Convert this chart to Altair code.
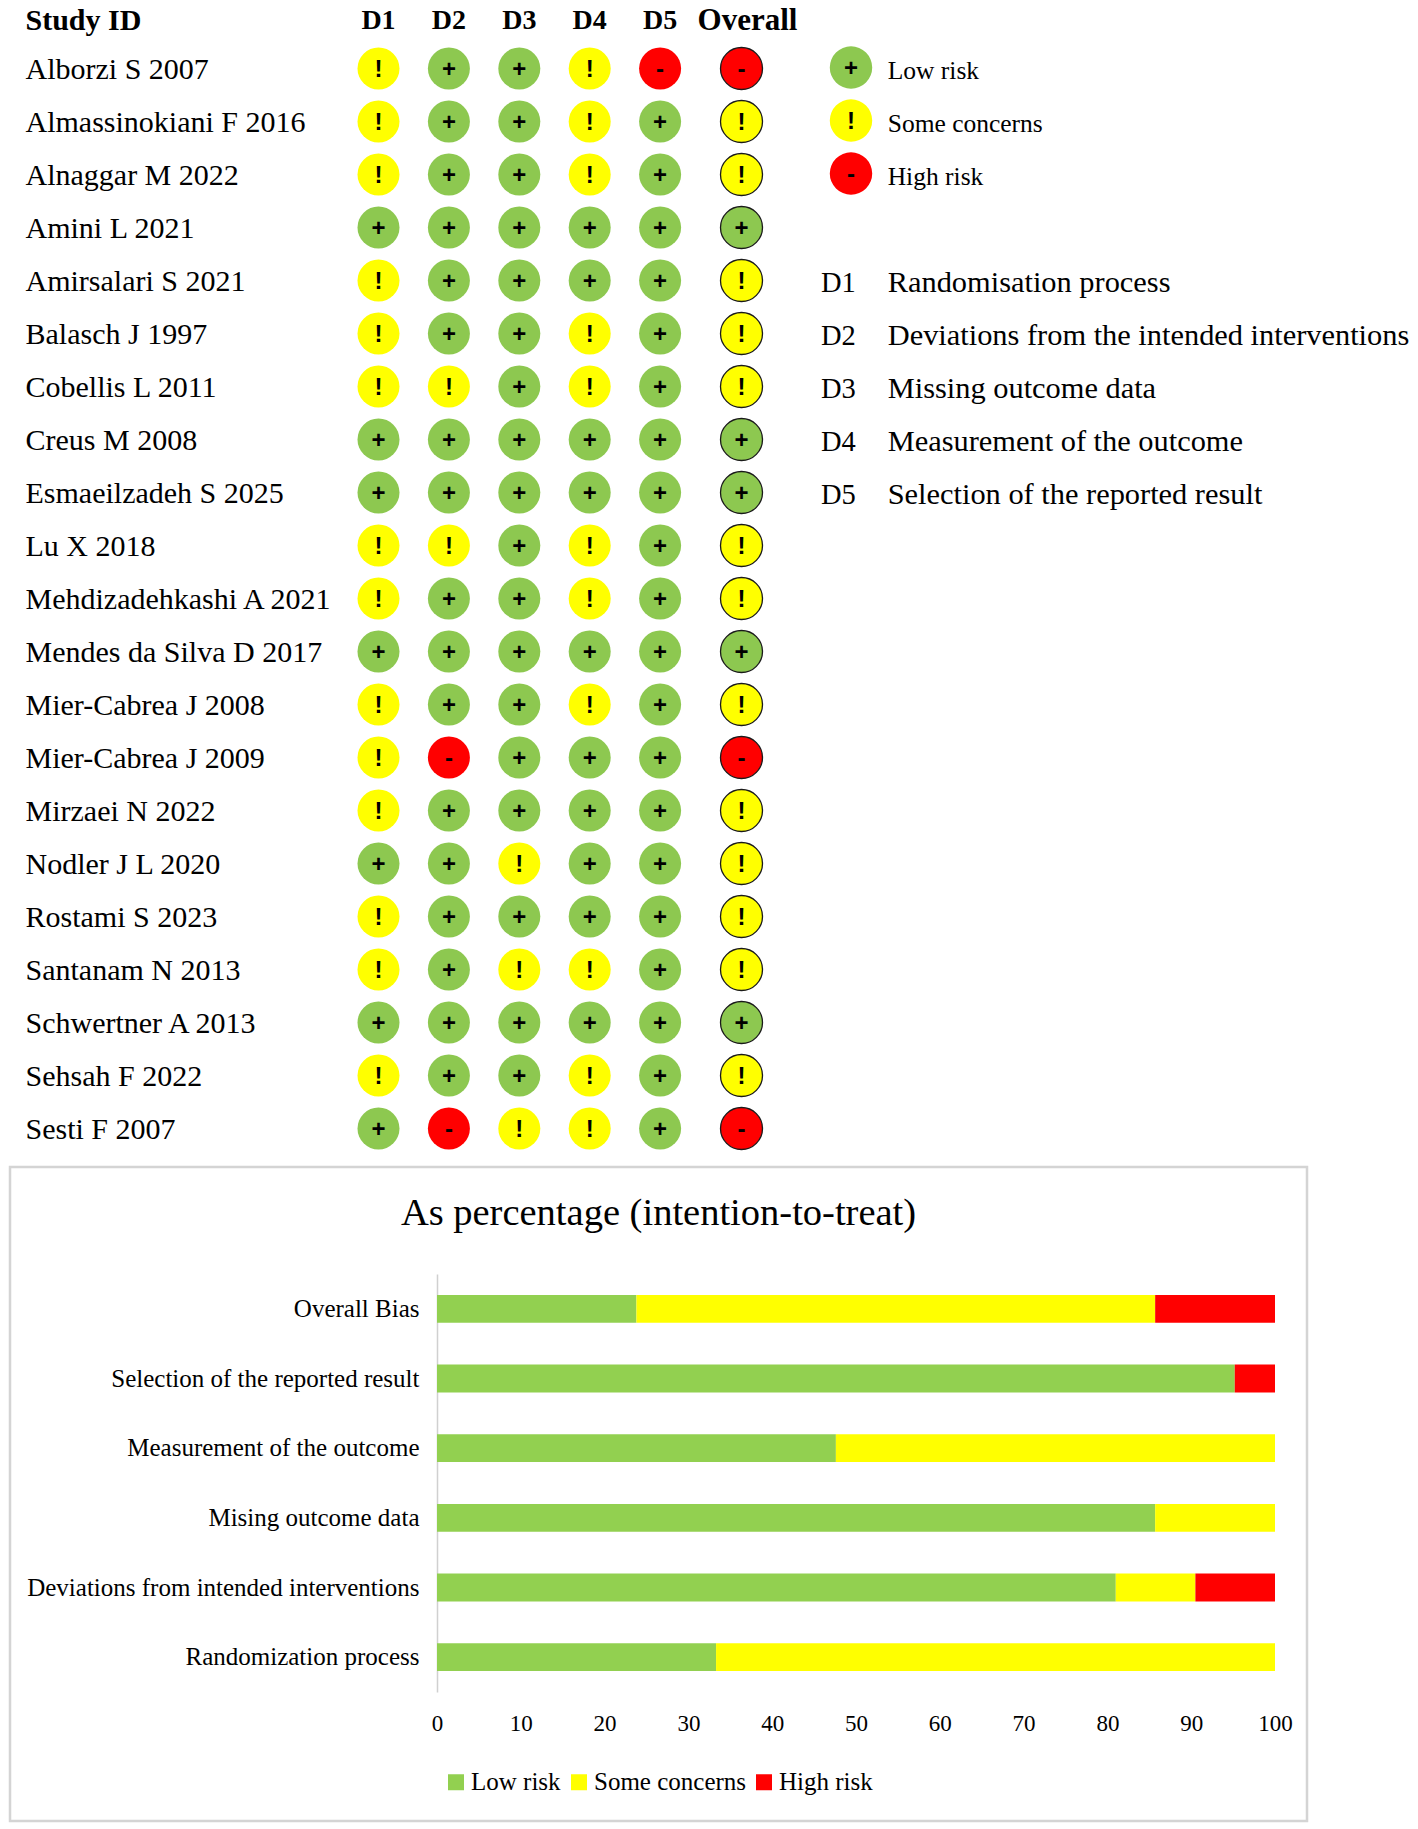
import altair as alt
import pandas as pd

studies = ["Alborzi S 2007","Almassinokiani F 2016","Alnaggar M 2022","Amini L 2021","Amirsalari S 2021",
           "Balasch J 1997","Cobellis L 2011","Creus M 2008","Esmaeilzadeh S 2025","Lu X 2018",
           "Mehdizadehkashi A 2021","Mendes da Silva D 2017","Mier-Cabrea J 2008","Mier-Cabrea J 2009",
           "Mirzaei N 2022","Nodler J L 2020","Rostami S 2023","Santanam N 2013","Schwertner A 2013",
           "Sehsah F 2022","Sesti F 2007"]
d1 = ["!","!","!","+","!","!","!","+","+","!","!","+","!","!","!","+","!","!","+","!","+"]
d2 = ["+","+","+","+","+","+","!","+","+","!","+","+","+","-","+","+","+","+","+","+","-"]
d3 = ["+","+","+","+","+","+","+","+","+","+","+","+","+","+","+","!","+","!","+","+","!"]
d4 = ["!","!","!","+","+","!","!","+","+","!","!","+","!","+","+","+","+","!","+","!","!"]
d5 = ["-","+","+","+","+","+","+","+","+","+","+","+","+","+","+","+","+","+","+","+","+"]
overall = ["-","!","!","+","!","!","!","+","+","!","!","+","!","-","!","!","!","!","+","!","-"]
columns = ["D1","D2","D3","D4","D5","Overall"]
risk_symbols = ["+","!","-"]
risk_names = ["Low risk","Some concerns","High risk"]
circle_colors = ["#8DC850","#FFFF00","#FF0000"]
bar_colors = ["#92D050","#FFFF00","#FF0000"]
domain_rows = ["Randomisation process","Deviations from the intended interventions","Missing outcome data",
               "Measurement of the outcome","Selection of the reported result"]
bar_categories = ["Overall Bias","Selection of the reported result","Measurement of the outcome",
                  "Mising outcome data","Deviations from intended interventions","Randomization process"]
low_pct = [23.8,95.2,47.6,85.7,81.0,33.3]
some_pct = [61.9,0,52.4,14.3,9.5,66.7]
high_pct = [14.3,4.8,0,0,9.5,0]
x_ticks = list(range(0,101,10))

SERIF = "Liberation Serif"
SANS = "Liberation Sans"

rows = ["Study ID"] + studies
yscale = alt.Scale(domain=rows, range=[5.5, 5.5 + 53*21], padding=0)
xscale = alt.Scale(domain=columns, range=[368.5, 720.5], padding=0)
y_enc = alt.Y("study:N", scale=yscale, axis=None)
x_enc = alt.X("col:N", scale=xscale, axis=None)

grid = pd.DataFrame([
    {"study": s, "col": c, "sym": v}
    for c, vals in zip(columns, [d1,d2,d3,d4,d5,overall])
    for s, v in zip(studies, vals)
])
main = grid[grid.col != "Overall"]
over = grid[grid.col == "Overall"]
color_enc = alt.Color("sym:N", scale=alt.Scale(domain=risk_symbols, range=circle_colors), legend=None)
CIRCLE = 1764
OVER_DX = 11

c_main = alt.Chart(main).mark_circle(size=CIRCLE, opacity=1).encode(x=x_enc, y=y_enc, color=color_enc)
c_over = alt.Chart(over).mark_point(size=CIRCLE, filled=True, opacity=1, stroke="#1a1a1a", strokeWidth=1.3, shape="circle", xOffset=OVER_DX).encode(x=x_enc, y=y_enc, fill=alt.Fill("sym:N", scale=alt.Scale(domain=risk_symbols, range=circle_colors), legend=None))
t_main = alt.Chart(main).mark_text(font=SANS, fontWeight="bold", fontSize=24, color="black", dy=1).encode(x=x_enc, y=y_enc, text="sym:N")
t_over = alt.Chart(over).mark_text(font=SANS, fontWeight="bold", fontSize=24, color="black", dy=1, xOffset=OVER_DX).encode(x=x_enc, y=y_enc, text="sym:N")

hdr = pd.DataFrame({"study": ["Study ID"]*len(columns), "col": columns})
h_main = alt.Chart(hdr[hdr.col != "Overall"]).mark_text(font=SERIF, fontWeight="bold", fontSize=28, color="black", dy=5).encode(x=x_enc, y=y_enc, text="col:N")
h_over = alt.Chart(hdr[hdr.col == "Overall"]).mark_text(font=SERIF, fontWeight="bold", fontSize=31, color="black", dy=5, xOffset=OVER_DX+6).encode(x=x_enc, y=y_enc, text="col:N")

# study names come from a y axis
names = alt.Chart(pd.DataFrame({"study": studies})).mark_point(opacity=0).encode(
    y=alt.Y("study:N", scale=yscale, axis=alt.Axis(
        title=None, domain=False, ticks=False, grid=False, labelAlign="left", labelPadding=-15,
        labelFont=SERIF, labelFontSize=30, labelColor="black", labelLimit=0, labelBound=False,
        labelFontWeight={"condition": {"test": "datum.value == 'Study ID'", "value": "bold"}, "value": "normal"},
        labelOffset={"condition": {"test": "datum.value == 'Study ID'", "value": 5}, "value": 1},
        values=rows)))

# key on the right: rows share the spacing of the study rows
key_rows = risk_names + [" "] + columns[:5]
key_y = alt.Y("row:N", scale=alt.Scale(domain=key_rows, range=[57.5, 57.5 + 53*8], padding=0), axis=None)
key_x = alt.X("kcol:N", scale=alt.Scale(domain=["code","key","label"], range=[811, 877.7], padding=0), axis=None)
key_sym = pd.DataFrame({"row": risk_names, "kcol": "key", "sym": risk_symbols})
key_lab = pd.DataFrame({"row": risk_names, "kcol": "label", "txt": risk_names})
dom_code = pd.DataFrame({"row": columns[:5], "kcol": "code", "txt": columns[:5]})
dom_lab = pd.DataFrame({"row": columns[:5], "kcol": "label", "txt": domain_rows})
KDX = -3.35
k1 = alt.Chart(key_sym).mark_circle(size=1800, opacity=1, xOffset=KDX).encode(x=key_x, y=key_y, color=color_enc)
k2 = alt.Chart(key_sym).mark_text(font=SANS, fontWeight="bold", fontSize=24, color="black", dy=1, xOffset=KDX).encode(x=key_x, y=key_y, text="sym:N")
k3 = alt.Chart(key_lab).mark_text(font=SERIF, fontSize=25.5, color="black", align="left", dy=3).encode(x=key_x, y=key_y, text="txt:N")
k4 = alt.Chart(dom_code).mark_text(font=SERIF, fontSize=28.5, color="black", align="left", dy=3).encode(x=key_x, y=key_y, text="txt:N")
k5 = alt.Chart(dom_lab).mark_text(font=SERIF, fontSize=30.4, color="black", align="left", dy=3).encode(x=key_x, y=key_y, text="txt:N")

top = alt.layer(names, c_main, c_over, t_main, t_over, h_main, h_over, k1, k2, k3, k4, k5).resolve_scale(
    x="independent", y="independent", color="independent", fill="independent"
).properties(width=1400, height=1155)

bars = pd.DataFrame([
    {"cat": c, "risk": n, "ord": i, "pct": v}
    for i, (n, vals) in enumerate(zip(risk_names, [low_pct, some_pct, high_pct]))
    for c, v in zip(bar_categories, vals)
])
bottom = alt.Chart(bars).mark_bar().encode(
    x=alt.X("pct:Q", stack="zero", scale=alt.Scale(domain=[0,100], range=[427, 1265], nice=False),
            axis=alt.Axis(title=None, domain=False, ticks=False, grid=False, values=x_ticks, offset=-129,
                          labelPadding=20, labelFont=SERIF, labelFontSize=23, labelColor="black", labelFlush=False)),
    y=alt.Y("cat:N", sort=bar_categories, scale=alt.Scale(domain=bar_categories, range=[107, 525], paddingInner=0.6, paddingOuter=0.3),
            axis=alt.Axis(title=None, ticks=False, grid=False, domain=True, domainColor="#d0d0d0", domainWidth=1.5, offset=-427,
                          labelPadding=18, labelFont=SERIF, labelFontSize=25, labelColor="black", labelLimit=0)),
    color=alt.Color("risk:N", scale=alt.Scale(domain=risk_names, range=bar_colors),
                    legend=alt.Legend(title=None, orient="none", legendX=433.5, legendY=602.5, direction="horizontal", columns=3,
                                      symbolType="square", symbolSize=256, symbolStrokeWidth=0, labelFont=SERIF, labelFontSize=25,
                                      labelColor="black", columnPadding=5, labelOffset=2.5, labelLimit=0)),
    order=alt.Order("ord:Q"),
).properties(
    width=1297, height=654,
    title=alt.TitleParams("As percentage (intention-to-treat)", font=SERIF, fontSize=38.5, fontWeight="normal", color="black",
                          orient="top", anchor="middle", offset=-66),
    view=alt.ViewConfig(stroke="#d4d4d4", strokeWidth=2.5),
)

chart = alt.vconcat(top, bottom, spacing=0).resolve_scale(color="independent", fill="independent").properties(
    padding={"left": 0, "top": -4, "right": 0, "bottom": 0}, background="white"
).configure_view(stroke=None)
chart.save("out.html", embed_options={"renderer": "svg", "actions": False})
